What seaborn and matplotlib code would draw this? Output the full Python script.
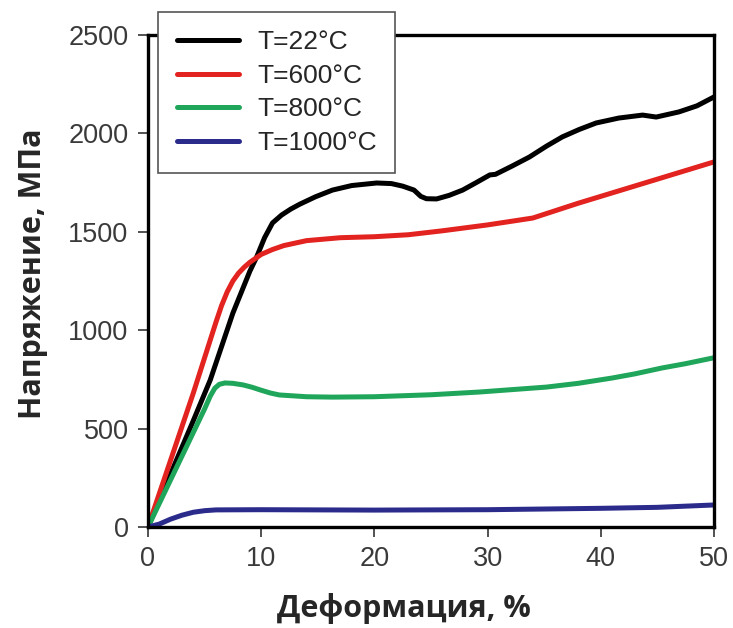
import pandas as pd
import matplotlib
matplotlib.use("Agg")
import matplotlib.pyplot as plt
import seaborn as sns

# series (strain %, stress MPa)
x_22 = [0, 2, 4, 5.5, 7.5, 9.0, 9.6, 10.3, 11, 11.8, 12.6, 13.4, 14.8, 16.3, 18, 20.2, 21.5, 22.5,
        23.5, 24.1, 24.6, 25.5, 26.6, 27.8, 29, 30.2, 30.7, 32.2, 33.7, 35.2, 36.6, 38.1, 39.6,
        41.6, 43.7, 44.9, 46.9, 48.5, 50]
y_22 = [0, 270, 540, 747, 1087, 1300, 1372, 1470, 1545, 1585, 1615, 1640, 1678, 1712, 1735, 1748,
        1745, 1732, 1712, 1680, 1668, 1667, 1685, 1712, 1750, 1789, 1792, 1835, 1880, 1935, 1982,
        2020, 2053, 2078, 2093, 2083, 2109, 2140, 2185]

x_600 = [0, 2, 4, 5, 6, 6.5, 7, 7.5, 8, 8.5, 9, 10, 11, 12, 14, 17, 20, 23, 26, 30, 34, 38, 42,
         46, 50]
y_600 = [0, 340, 680, 860, 1040, 1125, 1195, 1250, 1290, 1320, 1345, 1385, 1410, 1430, 1455,
         1470, 1475, 1485, 1505, 1535, 1570, 1645, 1715, 1785, 1855]

x_800 = [0, 2, 4, 5, 5.5, 5.9, 6.3, 6.8, 7.5, 8.4, 9.2, 10, 10.8, 11.6, 14, 16.3, 20, 25, 29.3,
         35.2, 38, 41, 43, 45.4, 47.5, 50]
y_800 = [0, 240, 480, 600, 665, 705, 725, 732, 730, 722, 710, 695, 681, 671, 662, 660, 662, 672,
         686, 711, 730, 757, 778, 808, 830, 860]

x_1000 = [0, 1, 2, 3, 4, 5, 6, 10, 20, 30, 40, 45, 50]
y_1000 = [0, 15, 40, 60, 75, 83, 87, 88, 86, 88, 95, 100, 112]

labels = ["T=22°C", "T=600°C", "T=800°C", "T=1000°C"]
colors = ["#000000", "#e2231f", "#1fa65a", "#2b2b8c"]

frames = []
for lab, xs, ys in zip(labels, [x_22, x_600, x_800, x_1000], [y_22, y_600, y_800, y_1000]):
    frames.append(pd.DataFrame({"strain": xs, "stress": ys, "T": lab}))
df = pd.concat(frames, ignore_index=True)

sns.set_style("white")
plt.rcParams["font.family"] = ["Liberation Sans", "DejaVu Sans"]

fig = plt.figure(figsize=(7.33, 6.28), dpi=100)
ax = fig.add_axes([0.2019, 0.1608, 0.7721, 0.7835])

sns.lineplot(data=df, x="strain", y="stress", hue="T", palette=colors, sort=False,
             linewidth=3.6, ax=ax)

ax.set_xlim(0, 50)
ax.set_ylim(0, 2500)
ax.set_xticks([0, 10, 20, 30, 40, 50])
ax.set_yticks([0, 500, 1000, 1500, 2000, 2500])

for s in ax.spines.values():
    s.set_linewidth(2.4)
    s.set_color("black")
ax.tick_params(direction="out", length=7, width=1.3, color="#444444",
               labelsize=19.5, labelcolor="#3a3a3a", left=True, bottom=True, pad=7)

ax.set_xlabel("Деформация, %", fontsize=22, fontweight="bold",
              family=["Open Sans", "DejaVu Sans"], labelpad=12)
ax.xaxis.set_label_coords(0.453, -0.135)
ax.set_ylabel("Напряжение, МПа", fontsize=22, fontweight="bold",
              family=["Open Sans", "DejaVu Sans"])
ax.yaxis.set_label_coords(-0.176, 0.515)

leg = ax.legend(loc="upper left", bbox_to_anchor=(0.018, 1.047), borderaxespad=0,
                fontsize=19, frameon=True, fancybox=False, handlelength=2.35,
                labelspacing=0.36, borderpad=0.7, handletextpad=0.7, framealpha=1)
leg.get_frame().set_edgecolor("#555555")
leg.get_frame().set_linewidth(1.2)
for h in leg.get_lines():
    h.set_linewidth(3.6)

fig.savefig("out.png", dpi=100)
